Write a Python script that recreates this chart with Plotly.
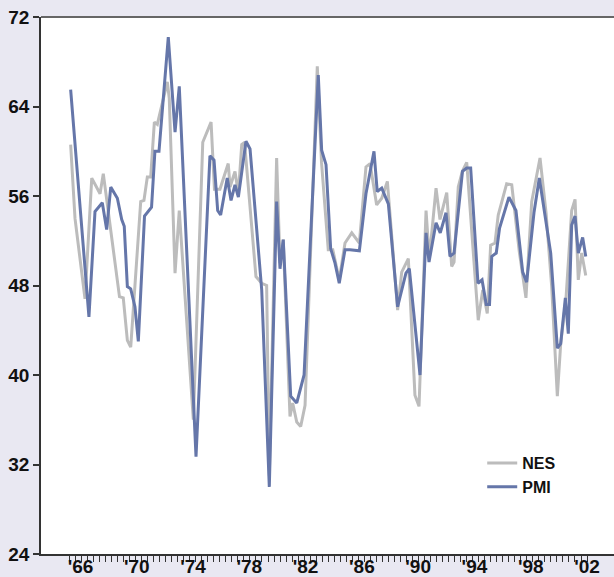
import plotly.graph_objects as go

# PMI (blue) vertices: year, value
pmi_year = [1965.30, 1966.60, 1967.03, 1967.55, 1967.86, 1968.15, 1968.62, 1968.93, 1969.11, 1969.33,
            1969.57, 1969.87, 1970.11, 1970.55, 1971.05, 1971.29, 1971.58, 1972.24, 1972.72, 1973.02,
            1974.21, 1975.20, 1975.49, 1975.75, 1975.96, 1976.43, 1976.70, 1976.98, 1977.22, 1977.76,
            1978.05, 1978.88, 1979.42, 1979.94, 1980.18, 1980.41, 1980.94, 1981.37, 1981.89, 1982.90,
            1983.14, 1983.45, 1983.78, 1984.09, 1984.39, 1984.80, 1985.15, 1985.82, 1986.29, 1986.86,
            1987.09, 1987.41, 1987.88, 1988.54, 1989.13, 1989.37, 1990.13, 1990.56, 1990.77, 1991.27,
            1991.57, 1991.98, 1992.26, 1992.55, 1993.15, 1993.45, 1993.73, 1994.25, 1994.54, 1994.84,
            1995.07, 1995.23, 1995.55, 1995.78, 1996.45, 1996.95, 1997.43, 1997.71, 1998.23, 1998.61,
            1999.42, 1999.89, 2000.13, 2000.46, 2000.67, 2000.91, 2001.15, 2001.38, 2001.69, 2001.91]
pmi_val = [65.5, 45.2, 54.6, 55.4, 53.0, 56.8, 55.8, 53.9, 53.3, 47.9,
           47.7, 46.1, 43.0, 54.2, 55.0, 60.0, 60.0, 70.2, 61.7, 65.8,
           32.7, 59.6, 59.2, 54.7, 54.3, 57.6, 55.6, 57.0, 55.9, 60.9,
           60.2, 47.6, 30.0, 55.5, 49.5, 52.1, 38.1, 37.5, 40.0, 66.8,
           60.1, 58.8, 51.3, 50.0, 48.2, 51.2, 51.2, 51.1, 56.2, 60.0,
           56.4, 56.7, 55.3, 46.1, 49.1, 49.5, 40.0, 52.7, 50.1, 53.6,
           52.7, 54.5, 50.6, 50.9, 58.2, 58.5, 58.5, 48.2, 48.5, 46.3,
           46.3, 50.6, 50.9, 53.1, 55.9, 54.7, 49.2, 48.3, 54.5, 57.6,
           50.9, 42.4, 42.8, 46.9, 43.7, 53.4, 54.2, 50.9, 52.3, 50.6]

# NES (gray) vertices: year, value
nes_year = [1965.30, 1965.61, 1966.32, 1966.80, 1967.39, 1967.62, 1968.77, 1969.04, 1969.33, 1969.57,
            1970.28, 1970.51, 1970.75, 1970.99, 1971.25, 1971.46, 1972.17, 1972.31, 1972.72, 1973.02,
            1974.02, 1974.69, 1975.28, 1975.52, 1975.91, 1976.50, 1976.63, 1976.98, 1977.22, 1977.46,
            1977.66, 1978.47, 1978.88, 1979.23, 1979.42, 1979.94, 1980.18, 1980.41, 1980.89, 1981.08,
            1981.37, 1981.65, 1981.96, 1982.83, 1983.13, 1983.61, 1983.93, 1984.39, 1984.80, 1985.28,
            1985.82, 1986.29, 1986.58, 1987.05, 1987.41, 1987.81, 1988.54, 1988.83, 1989.30, 1989.77,
            1990.06, 1990.56, 1990.79, 1991.27, 1991.55, 1992.03, 1992.38, 1992.55, 1992.85, 1993.14,
            1993.45, 1994.27, 1994.59, 1994.91, 1995.15, 1995.46, 1995.69, 1996.29, 1996.65, 1997.19,
            1997.66, 1998.07, 1998.66, 1999.09, 1999.49, 1999.89, 2000.13, 2000.51, 2000.91, 2001.15,
            2001.38, 2001.62, 2001.91]
nes_val = [60.6, 54.0, 46.8, 57.6, 56.2, 58.0, 47.0, 46.9, 43.1, 42.5,
           55.5, 55.6, 57.7, 57.7, 62.6, 62.4, 66.2, 64.7, 49.1, 54.7,
           36.0, 60.8, 62.6, 56.6, 56.6, 58.9, 56.8, 58.2, 56.2, 60.6,
           60.8, 48.8, 48.2, 48.0, 31.0, 59.4, 50.0, 52.1, 36.3, 37.5,
           35.8, 35.4, 37.3, 67.6, 59.0, 51.2, 51.2, 48.5, 51.8, 52.7,
           51.8, 58.6, 58.9, 55.2, 55.8, 57.3, 45.8, 49.2, 50.4, 38.2,
           37.2, 54.7, 50.4, 56.7, 53.9, 56.3, 49.7, 50.1, 56.8, 58.2,
           59.0, 44.9, 47.6, 45.5, 51.6, 51.8, 54.3, 57.1, 57.0, 51.0,
           46.9, 55.5, 59.4, 54.5, 47.9, 38.1, 42.8, 46.9, 54.7, 55.7,
           48.5, 50.9, 48.9]

x_tick_years = [1966, 1970, 1974, 1978, 1982, 1986, 1990, 1994, 1998, 2002]
x_tick_labels = ["'66", "'70", "'74", "'78", "'82", "'86", "'90", "'94", "'98", "'02"]
y_ticks = [24, 32, 40, 48, 56, 64, 72]

minor_start, minor_step, minor_end = 1965.21, 0.4278, 2002.01
minor_vals = []
t = minor_start
while t <= minor_end:
    minor_vals.append(round(t, 4))
    t += minor_step

font_family = "Liberation Sans, Arial, Helvetica, sans-serif"

fig = go.Figure()
fig.add_trace(go.Scatter(x=nes_year, y=nes_val, mode="lines", name="NES",
                         line=dict(color="#bcbcbc", width=3), legendgroup="a"))
fig.add_trace(go.Scatter(x=pmi_year, y=pmi_val, mode="lines", name="PMI",
                         line=dict(color="#6576a9", width=3), legendgroup="b"))

fig.update_layout(
    width=614, height=577,
    margin=dict(l=41, r=0, t=17, b=23, autoexpand=False),
    paper_bgcolor="#e9e8f2",
    plot_bgcolor="#ffffff",
    showlegend=True,
    legend=dict(x=0.770, y=0.201, xanchor="left", yanchor="top",
                bgcolor="rgba(0,0,0,0)", tracegroupgap=0,
                font=dict(family=font_family, size=16, color="#111111", weight="bold")),
    xaxis=dict(range=[1963.193, 2003.918], tickmode="array", tickvals=x_tick_years,
               ticktext=x_tick_labels, ticks="", showgrid=False, zeroline=False,
               automargin=False, ticklabelstandoff=-6,
               showline=True, linecolor="#333333", linewidth=1.5,
               tickfont=dict(family=font_family, size=19, color="#111111", weight="bold"),
               minor=dict(tickmode="array", tickvals=minor_vals, ticks="outside",
                          ticklen=6, tickcolor="#333333", tickwidth=1, showgrid=False)),
    yaxis=dict(range=[24, 72], tickmode="array", tickvals=y_ticks,
               ticks="outside", ticklen=6, tickcolor="#333333", tickwidth=1.5,
               showgrid=False, zeroline=False, showline=True, automargin=False,
               linecolor="#333333", linewidth=1.5,
               tickfont=dict(family=font_family, size=19, color="#111111", weight="bold")),
    shapes=[dict(type="line", xref="paper", yref="paper", x0=0, x1=1, y0=1, y1=1,
                 line=dict(color="#666666", width=2))],
)

fig.write_html(
    "out.html",
    config={"displayModeBar": False},
    post_script="document.body.style.margin='0';document.body.style.overflow='hidden';"
                "document.body.style.background='#e9e8f2';",
)
